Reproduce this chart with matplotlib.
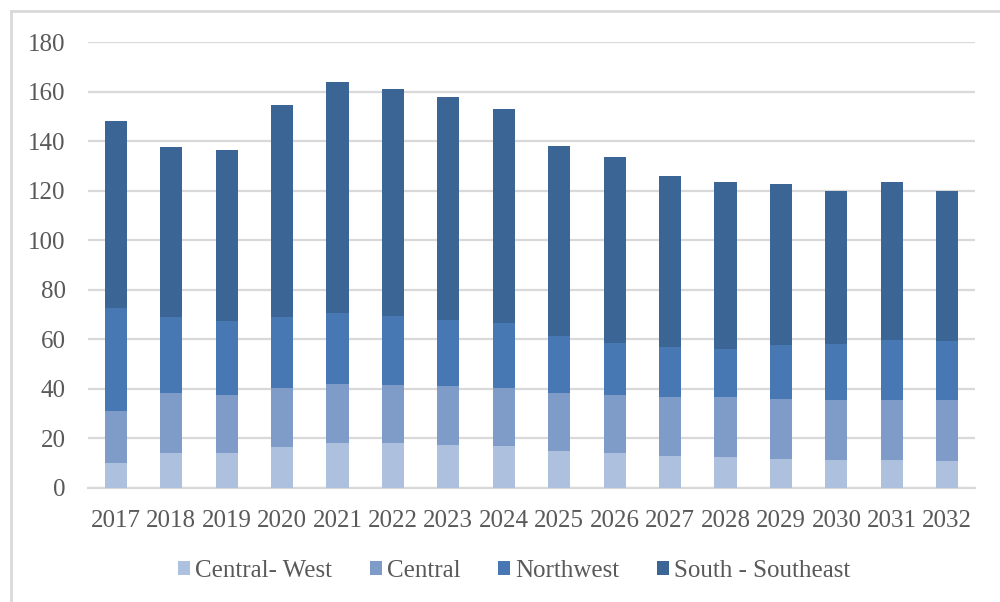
import numpy as np
import matplotlib.pyplot as plt
from matplotlib.lines import Line2D

years = ['2017', '2018', '2019', '2020', '2021', '2022', '2023', '2024',
         '2025', '2026', '2027', '2028', '2029', '2030', '2031', '2032']

# stacked values per region
central_west = [10.2, 14.0, 14.0, 16.7, 18.3, 18.0, 17.5, 17.0,
                15.0, 14.1, 13.0, 12.4, 11.7, 11.2, 11.2, 10.8]
central = [21.0, 24.2, 23.5, 23.8, 23.7, 23.5, 23.5, 23.5,
           23.5, 23.4, 23.6, 24.2, 24.3, 24.3, 24.3, 24.7]
northwest = [41.6, 30.9, 29.9, 28.6, 28.7, 28.0, 27.0, 26.0,
             23.0, 21.1, 20.4, 19.5, 21.7, 22.6, 24.2, 23.8]
south_southeast = [75.4, 68.6, 68.9, 85.5, 93.0, 91.6, 89.9, 86.6,
                   76.4, 75.0, 69.0, 67.4, 64.8, 61.9, 63.8, 60.7]

series = [('Central- West', central_west, '#adc0de'),
          ('Central', central, '#7f9cc9'),
          ('Northwest', northwest, '#4878b4'),
          ('South - Southeast', south_southeast, '#3b6595')]

plt.rcParams['font.family'] = ['Liberation Serif', 'DejaVu Serif']

fig = plt.figure(figsize=(10, 6.02), dpi=100)
ax = fig.add_axes([0.088, 0.1894, 0.887, 0.7408])

x = np.arange(len(years))
bottom = np.zeros(len(years))
for name, vals, color in series:
    ax.bar(x, vals, width=0.4, bottom=bottom, color=color, label=name, zorder=3)
    bottom += np.array(vals)

ax.set_xlim(-0.5, len(years) - 0.5)
ax.set_ylim(0, 180)
ax.set_yticks(range(0, 181, 20))
ax.set_xticks(x)
ax.set_xticklabels(years)
ax.grid(axis='y', color='#d9d9d9', linewidth=1.6, zorder=0)
for s in ['top', 'right', 'left']:
    ax.spines[s].set_visible(False)
ax.spines['bottom'].set_color('#d9d9d9')
ax.spines['bottom'].set_linewidth(1.6)
ax.tick_params(axis='both', length=0, labelsize=18, labelcolor='#595959')
ax.tick_params(axis='y', pad=16)
ax.tick_params(axis='x', pad=16)

leg = fig.legend(loc='center', bbox_to_anchor=(0.514, 0.052), ncol=4, frameon=False,
                 fontsize=18, handlelength=0.48, handleheight=0.48, handletextpad=0.2,
                 columnspacing=1.5)
for t in leg.get_texts():
    t.set_color('#595959')

# outer chart frame
fig.add_artist(Line2D([0.011, 1.0], [1 - 11 / 602, 1 - 11 / 602], color='#d9d9d9',
                      linewidth=2, transform=fig.transFigure))
fig.add_artist(Line2D([0.011, 0.011], [0, 1 - 11 / 602], color='#d9d9d9',
                      linewidth=2, transform=fig.transFigure))

plt.savefig('out.png')
